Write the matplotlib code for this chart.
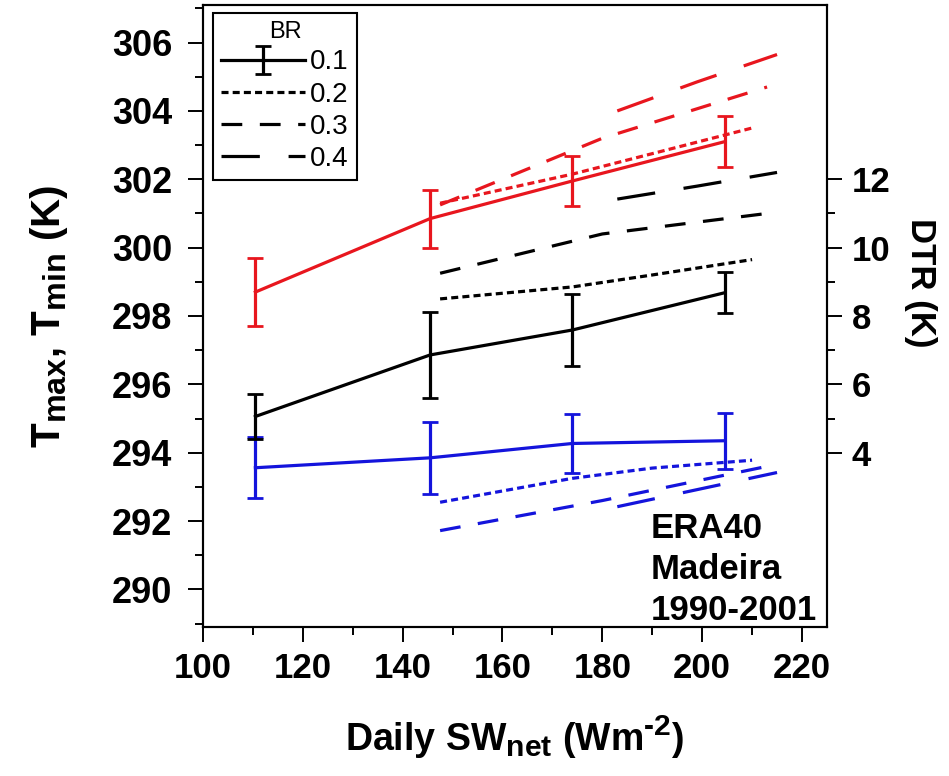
import numpy as np
import matplotlib
matplotlib.use("Agg")
import matplotlib.pyplot as plt
import matplotlib._mathtext as mathtext_internal
from matplotlib.ticker import MultipleLocator, FixedLocator

plt.rcParams['font.family'] = ['Liberation Sans', 'DejaVu Sans']
plt.rcParams['mathtext.fontset'] = 'custom'
plt.rcParams['mathtext.rm'] = 'Liberation Sans:bold'
plt.rcParams['mathtext.it'] = 'Liberation Sans:bold'
plt.rcParams['mathtext.bf'] = 'Liberation Sans:bold'
# sub/superscripts in the original labels are nearly full size
mathtext_internal.SHRINK_FACTOR = 0.8

# BR = 0.1 binned means with error bars
sw_01 = [110.5, 145.5, 174, 204.5]
tmax_01 = [298.7, 300.85, 301.95, 303.1]
tmax_01_err = [1.0, 0.85, 0.72, 0.74]
tmin_01 = [293.56, 293.85, 294.27, 294.35]
tmin_01_err = [0.9, 1.06, 0.85, 0.82]
dtr_01 = [5.06, 6.86, 7.59, 8.68]
dtr_01_err = [0.66, 1.27, 1.05, 0.6]

# BR = 0.2
sw_02 = [147.5, 174, 190, 210]
tmax_02 = [301.3, 302.15, 302.75, 303.5]
tmin_02 = [292.55, 293.25, 293.55, 293.78]
dtr_02 = [8.5, 8.85, 9.2, 9.65]

# BR = 0.3
sw_03 = [147.5, 180, 213]
tmax_03 = [301.25, 303.2, 304.7]
tmin_03 = [291.72, 292.6, 293.6]
dtr_03 = [9.25, 10.4, 11.0]

# BR = 0.4
sw_04 = [183, 199, 215]
tmax_04 = [304.0, 304.85, 305.65]
tmin_04 = [292.42, 292.92, 293.42]
dtr_04 = [11.42, 11.8, 12.2]

red = '#e8161e'
blue = '#1414dc'
lw = 2.3
dash02 = (2.2, 1.3)
dash03 = (6.5, 5.5)
dash04 = (12, 9)

fig = plt.figure(figsize=(9.49, 7.76), dpi=100)
ax = fig.add_axes([0.2139, 0.192, 0.8714 - 0.2139, 0.9936 - 0.192])

ax.errorbar(sw_01, tmax_01, yerr=tmax_01_err, color=red, lw=lw, capsize=6, capthick=2, elinewidth=2.3)
ax.errorbar(sw_01, tmin_01, yerr=tmin_01_err, color=blue, lw=lw, capsize=6, capthick=2, elinewidth=2.3)
for x, y1, y2, d in [(sw_02, tmax_02, tmin_02, dash02),
                     (sw_03, tmax_03, tmin_03, dash03),
                     (sw_04, tmax_04, tmin_04, dash04)]:
    ax.plot(x, y1, color=red, lw=lw, dashes=d)
    ax.plot(x, y2, color=blue, lw=lw, dashes=d)

ax.set_xlim(100, 225)
ax.set_ylim(288.9, 307.1)
ax.xaxis.set_major_locator(MultipleLocator(20))
ax.xaxis.set_minor_locator(MultipleLocator(10))
ax.yaxis.set_major_locator(MultipleLocator(2))
ax.yaxis.set_minor_locator(MultipleLocator(1))

ax2 = ax.twinx()
h1 = ax2.errorbar(sw_01, dtr_01, yerr=dtr_01_err, color='black', lw=lw, capsize=6, capthick=2, elinewidth=2.3)
h2, = ax2.plot(sw_02, dtr_02, color='black', lw=lw, dashes=dash02)
h3, = ax2.plot(sw_03, dtr_03, color='black', lw=lw, dashes=dash03)
h4, = ax2.plot(sw_04, dtr_04, color='black', lw=lw, dashes=dash04)
ax2.set_ylim(288.9 - 290, 307.1 - 290)
ax2.yaxis.set_major_locator(FixedLocator([4, 6, 8, 10, 12]))
ax2.yaxis.set_minor_locator(FixedLocator([5, 7, 9, 11]))

for a in (ax, ax2):
    a.tick_params(which='major', direction='out', length=11, width=1.4, labelsize=25, pad=7)
    a.tick_params(which='minor', direction='out', length=6, width=1.4)
    for lab in a.get_xticklabels() + a.get_yticklabels():
        lab.set_fontweight('bold')
    for s in a.spines.values():
        s.set_linewidth(1.5)
ax.tick_params(axis='x', which='both', top=False)
ax.tick_params(axis='y', which='both', right=False)
ax.tick_params(axis='y', which='major', pad=11, labelsize=26)

ax.set_xlabel(r'Daily SW$_{net}$ (Wm$^{\text{-}2}$)', fontsize=27, fontweight='bold', labelpad=20)
ax.set_ylabel(r'T$_{max}$, T$_{min}$ (K)', fontsize=29, fontweight='bold', labelpad=30)
ax2.set_ylabel('DTR (K)', fontsize=25, fontweight='bold', rotation=270, va='center')
ax2.yaxis.set_label_coords(1.15, 0.553)

ax2.text(0.717, 0.0, 'ERA40\nMadeira\n1990-2001', transform=ax.transAxes,
         ha='left', va='bottom', fontsize=25, fontweight='bold', linespacing=1.3)

leg = ax2.legend([h1, h2, h3, h4], ['0.1', '0.2', '0.3', '0.4'], title='BR',
                 loc='upper left', bbox_to_anchor=(0.016, 0.987), borderaxespad=0,
                 fontsize=20, title_fontsize=17, handlelength=3.0, handletextpad=0.2,
                 labelspacing=0.22, borderpad=0.3, fancybox=False, framealpha=1,
                 edgecolor='black')
leg.get_frame().set_linewidth(1.5)

fig.savefig('out.png', dpi=100)
